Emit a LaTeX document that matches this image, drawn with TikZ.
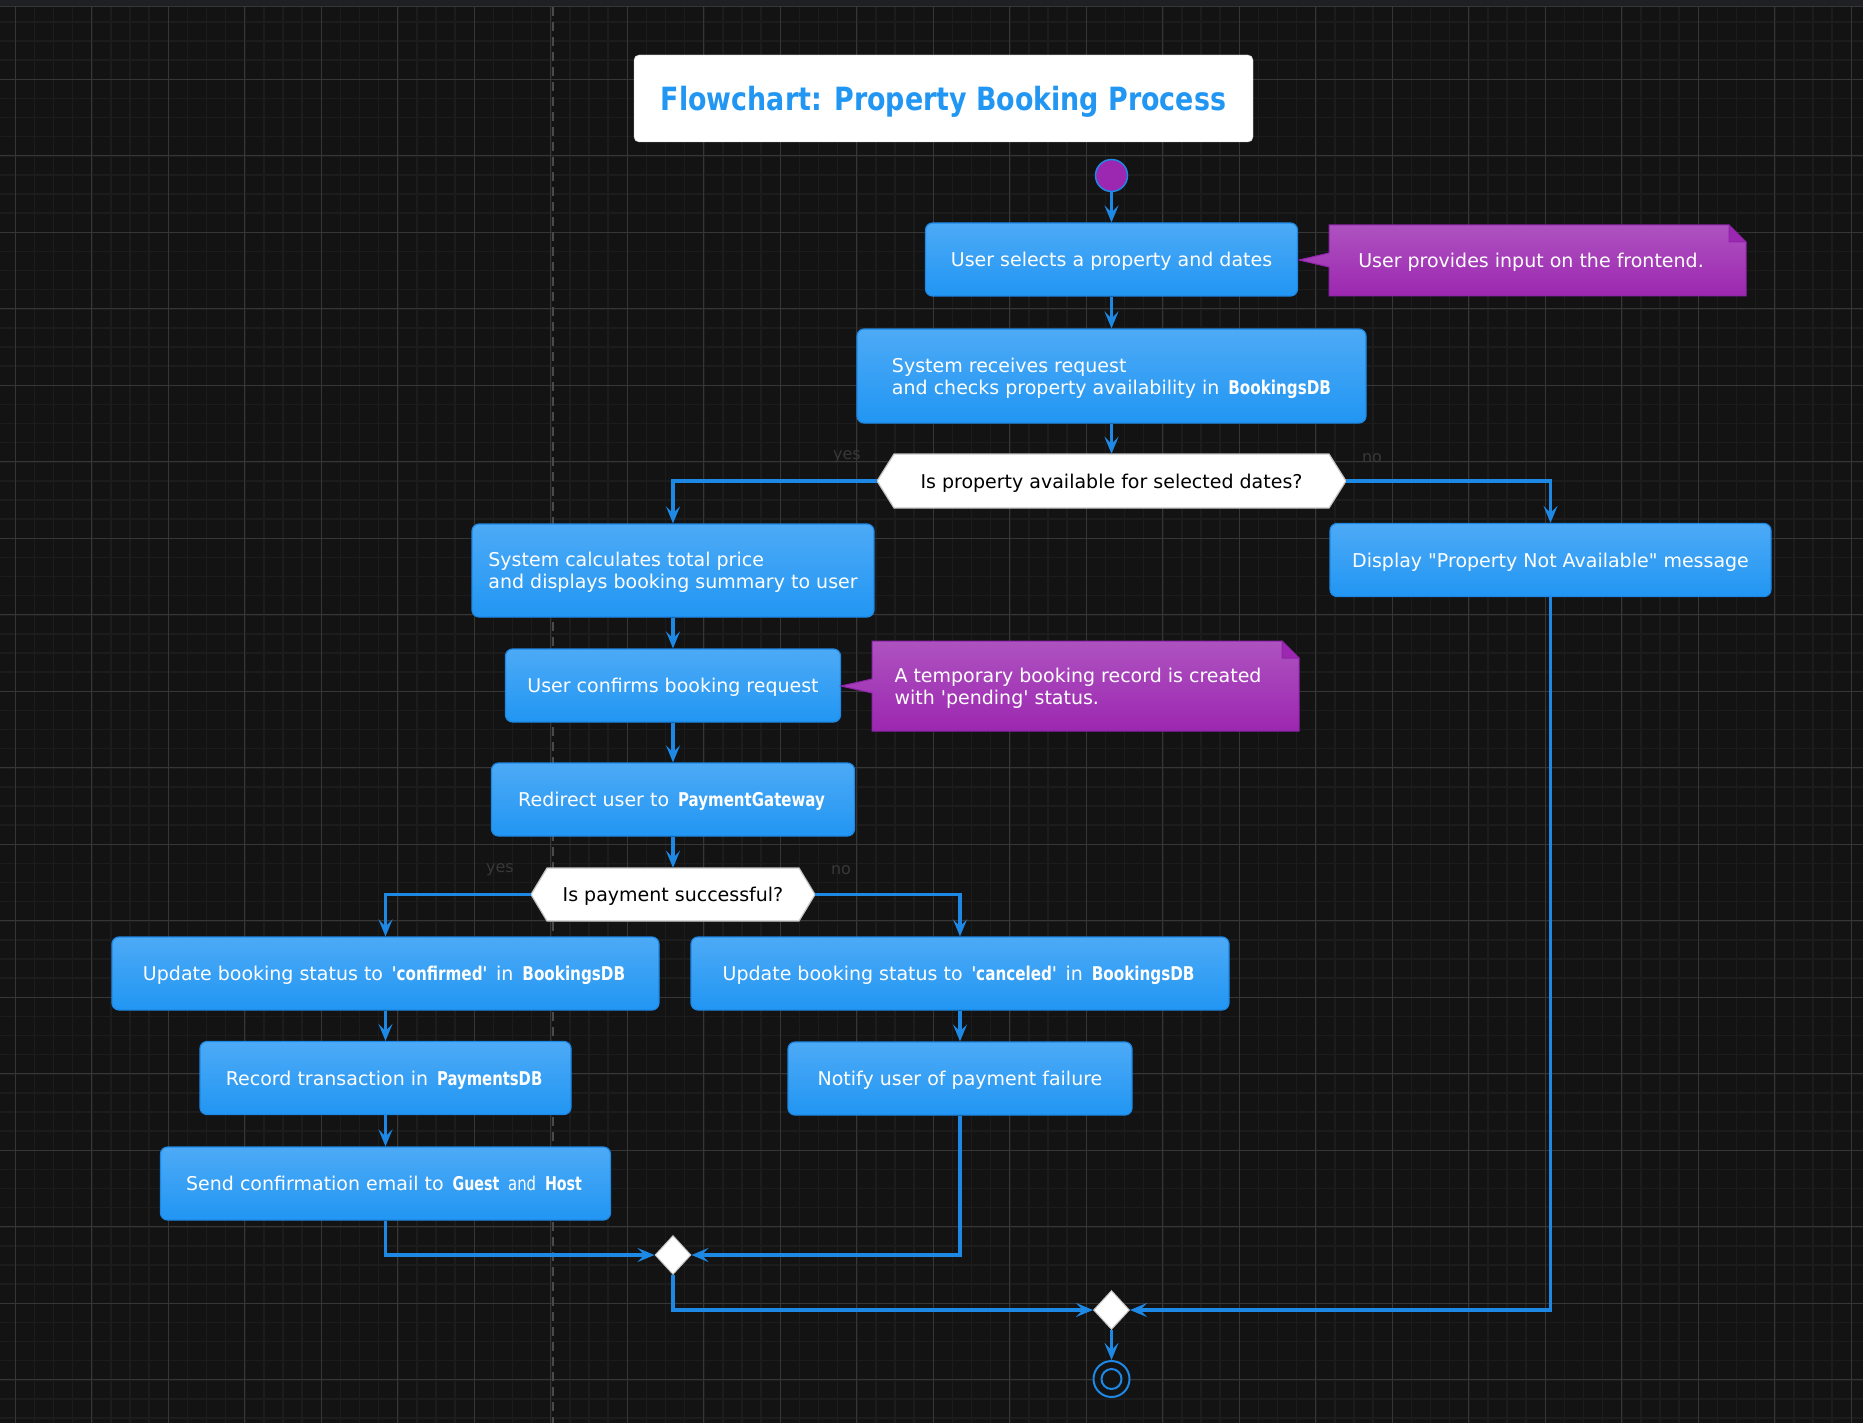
\documentclass[tikz,border=0pt]{standalone}
\usepackage{fontspec}
\setmainfont{DejaVu Sans}
\usetikzlibrary{arrows.meta,shapes.geometric}
\definecolor{bgcol}{HTML}{131313}
\definecolor{barcol}{HTML}{1F2023}
\definecolor{minorcol}{HTML}{1C1C1C}
\definecolor{majorcol}{HTML}{363636}
\definecolor{lanecol}{HTML}{4A4A4A}
\definecolor{boxtop}{HTML}{4DAAF6}
\definecolor{boxbot}{HTML}{2196F3}
\definecolor{boxline}{HTML}{1E88E5}
\definecolor{flowcol}{HTML}{1E88E5}
\definecolor{notetop}{HTML}{AE52C0}
\definecolor{notebot}{HTML}{9C27B0}
\definecolor{noteline}{HTML}{8E24AA}
\definecolor{titleblue}{HTML}{2196F3}
\definecolor{decline}{HTML}{C4C4C4}
\definecolor{guardcol}{HTML}{383838}
\newcommand\dbname[2][0.8]{\hspace{0.15em}\scalebox{#1}[1]{\bfseries #2}\hspace{0.15em}}
\begin{document}
\begin{tikzpicture}[x=1pt,y=-1pt,font=\fontsize{19}{22}\selectfont,
  act/.style={draw=boxline,line width=1.2pt,rounded corners=7pt,top color=boxtop,bottom color=boxbot,text=white,align=left,inner sep=0pt,minimum height=73pt,text depth=0pt},
  flow/.style={draw=flowcol,line width=3.5pt,-{Stealth[length=17pt,width=14pt,inset=7pt]}},
  dec/.style={fill=white,draw=decline,line width=1.2pt},
  note/.style={top color=notetop,bottom color=notebot,draw=noteline,line width=1pt},
  guard/.style={text=guardcol,font=\fontsize{16}{18}\selectfont},
  merge/.style={diamond,fill=white,draw=decline,line width=1pt,inner sep=0pt,minimum width=36pt,minimum height=39pt}]
	\useasboundingbox (0,0) rectangle (1863,1423);
	\fill[bgcol] (0,0) rectangle (1863,1423);
	\foreach \i in {0,...,97} \draw[minorcol,line width=1.5pt] ({-3.825+19.125*\i},7) -- ++(0,1416);
	\foreach \j in {0,...,74} \draw[minorcol,line width=1.5pt] (0,{2.8+19.125*\j}) -- ++(1863,0);
	\foreach \i in {0,...,24} \draw[majorcol,line width=1pt] ({15.3+76.5*\i},7) -- ++(0,1416);
	\foreach \j in {1,...,18} \draw[majorcol,line width=1pt] (0,{2.8+76.5*\j}) -- ++(1863,0);
	\fill[barcol] (0,0) rectangle (1863,7);
	\draw[majorcol,line width=1pt] (0,7) -- (1863,7);
	\draw[lanecol,line width=2pt,dash pattern=on 9pt off 6pt] (553,7) -- (553,1423);

	\node[fill=white,draw=decline,rounded corners=5pt,minimum width=619pt,minimum height=87pt,text=titleblue,text depth=0pt] (title) at (943.5,98.5) {\scalebox{0.84}[1]{\fontsize{32}{38}\selectfont\bfseries Flowchart: Property Booking Process}};
	\node[circle,fill=notebot,draw=flowcol,line width=1.5pt,minimum size=32pt,inner sep=0pt] (start) at (1111.5,175.5) {};

	\node[act,minimum width=372pt] (a1) at (1111.5,259.5) {User selects a property and dates};
	\filldraw[note] (1329,225) -- (1729,225) -- (1746,242) -- (1746,296) -- (1329,296) -- (1329,267) -- (1299,260) -- (1329,253) -- cycle;
	\filldraw[fill=notebot,draw=noteline,line width=1pt] (1729,225) -- (1729,242) -- (1746,242) -- cycle;
	\node[text=white,align=left,text depth=0pt] (n1) at (1531,260.5) {User provides input on the frontend.};
	\node[act,minimum width=509pt,minimum height=94pt] (a2) at (1111.5,376) {System receives request\\and checks property availability in \dbname{BookingsDB}};

	\filldraw[dec] (877,481) coordinate (d1l) -- (894,454) -- (1329,454) -- (1346,481) coordinate (d1r) -- (1329,508) -- (894,508) -- cycle;
	\node[minimum width=435pt,minimum height=54pt,text depth=0pt] (d1) at (1111.5,481) {Is property available for selected dates?};
	\node[guard] (g1) at (847,457) {yes};
	\node[guard] (g2) at (1372,458) {no};

	\node[act,minimum width=402pt,minimum height=93pt] (a3) at (673,570.5) {System calculates total price\\and displays booking summary to user};
	\node[act,minimum width=441pt] (na) at (1550.5,560) {Display \textquotedbl Property Not Available\textquotedbl{} message};
	\node[act,minimum width=335pt] (a4) at (673,685.5) {User confirms booking request};
	\filldraw[note] (872,641) -- (1282,641) -- (1299,658) -- (1299,731) -- (872,731) -- (872,693) -- (841,686) -- (872,679) -- cycle;
	\filldraw[fill=notebot,draw=noteline,line width=1pt] (1282,641) -- (1282,658) -- (1299,658) -- cycle;
	\node[text=white,align=left,text depth=0pt] (n2) at (1078,686) {A temporary booking record is created\\with \textquotesingle pending\textquotesingle{} status.};
	\node[act,minimum width=363pt] (a5) at (673,799.5) {Redirect user to \dbname[0.79]{PaymentGateway}};

	\filldraw[dec] (531,894.5) coordinate (d2l) -- (547,868) -- (799,868) -- (815,894.5) coordinate (d2r) -- (799,921) -- (547,921) -- cycle;
	\node[minimum width=252pt,minimum height=53pt,text depth=0pt] (d2) at (673,894.5) {Is payment successful?};
	\node[guard] (g3) at (500,870) {yes};
	\node[guard] (g4) at (841,870) {no};

	\node[act,minimum width=547pt] (b1) at (385.5,973.5) {Update booking status to \dbname{\textquotesingle confirmed\textquotesingle} in \dbname{BookingsDB}};
	\node[act,minimum width=371pt] (b2) at (385.5,1078) {Record transaction in \dbname[0.78]{PaymentsDB}};
	\node[act,minimum width=450pt] (b3) at (385.5,1183.5) {Send confirmation email to \dbname[0.75]{Guest} \scalebox{0.78}[1]{and} \dbname[0.75]{Host}};
	\node[act,minimum width=538pt] (c1) at (960,973.5) {Update booking status to \dbname{\textquotesingle canceled\textquotesingle} in \dbname{BookingsDB}};
	\node[act,minimum width=344pt] (c2) at (960,1078.5) {Notify user of payment failure};

	\node[merge] (m1) at (673,1255) {};
	\node[merge] (m2) at (1111.5,1310) {};
	\node[circle,draw=flowcol,line width=2pt,fill=bgcol,minimum size=36pt,inner sep=0pt] (stop) at (1111.5,1379) {};
	\node[circle,draw=flowcol,line width=2pt,minimum size=20pt,inner sep=0pt] (stopin) at (stop) {};

	\draw[flow] (start) -- (a1);
	\draw[flow] (a1) -- (a2);
	\draw[flow] (a2) -- (d1);
	\draw[flow] (d1l) -| (a3);
	\draw[flow] (d1r) -| (na);
	\draw[flow] (a3) -- (a4);
	\draw[flow] (a4) -- (a5);
	\draw[flow] (a5) -- (d2);
	\draw[flow] (d2l) -| (b1);
	\draw[flow] (d2r) -| (c1);
	\draw[flow] (b1) -- (b2);
	\draw[flow] (b2) -- (b3);
	\draw[flow] (c1) -- (c2);
	\draw[flow] (b3) |- (m1);
	\draw[flow] (c2) |- (m1);
	\draw[flow] (m1) |- (m2);
	\draw[flow] (na) |- (m2);
	\draw[flow] (m2) -- (stop);
\end{tikzpicture}
\end{document}
